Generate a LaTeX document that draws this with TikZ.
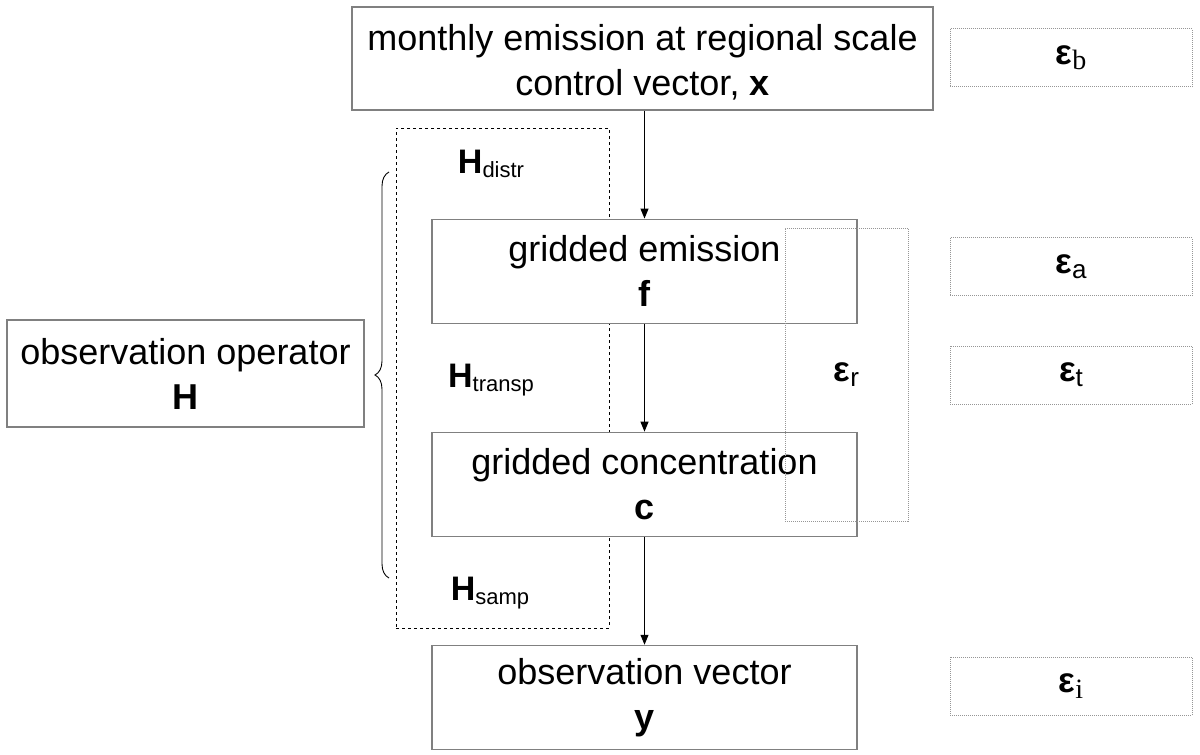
\documentclass[tikz,border=0pt]{standalone}
\usepackage{fontspec}
\setmainfont{Liberation Sans}
\newfontfamily\subserif{Liberation Serif}
\usetikzlibrary{positioning, arrows.meta, decorations.pathreplacing}

\definecolor{boxgray}{RGB}{128,128,128}
\definecolor{dotgray}{RGB}{150,150,150}

\newcommand{\Hop}[1]{\textbf{H}\raisebox{-0.12em}{\fontsize{22}{22}\selectfont #1}}
\newcommand{\epsS}[1]{\textbf{ε}\raisebox{-0.15em}{\fontsize{26}{26}\selectfont #1}}
\newcommand{\epsR}[1]{\textbf{ε}\raisebox{-0.15em}{\fontsize{28}{28}\selectfont\subserif #1}}

\begin{document}
\begin{tikzpicture}[x=1pt, y=-1pt, node distance=108pt,
    block/.style={rectangle, draw=boxgray, line width=1.1pt, fill=white, align=center, inner sep=0pt,
        minimum width=425pt, minimum height=104pt, font=\fontsize{36}{45}\selectfont},
    errbox/.style={rectangle, draw=dotgray, dash pattern=on 1pt off 1pt, line width=0.9pt,
        minimum width=242pt, minimum height=58pt, font=\fontsize{35}{35}\selectfont},
    oplabel/.style={font=\fontsize{34}{34}\selectfont},
    arrow/.style={-{Triangle[length=10pt, width=8pt]}, line width=1pt}]

\useasboundingbox (0,0) rectangle (1200,755);

% Operator group
\node [rectangle, draw, dashed, line width=1pt, minimum width=213pt, minimum height=500pt] (hgroup) at (502.5,378) {};

% Nodes
\node [block, minimum width=581pt, minimum height=103pt] (ctrl) at (642.5,58.5) {\rule{0pt}{34pt}monthly emission at regional scale\\control vector, \textbf{x}};
\node [block, below=of ctrl, xshift=2pt] (emis) {gridded emission\\\textbf{f}};
\node [block, below=of emis] (conc) {gridded concentration\\\textbf{c}};
\node [block, below=of conc] (obs) {observation vector\\\textbf{y}};
\node [block, minimum width=357pt, minimum height=107pt] (oper) at (185.5,373.5) {observation operator\\\textbf{H}};

\node [oplabel] (hdistr) at (491,164) {\Hop{distr}};
\node [oplabel] (htransp) at (491,380) {\Hop{transp}};
\node [oplabel] (hsamp) at (490,593) {\Hop{samp}};

% Errors
\node [errbox, minimum width=123pt, minimum height=293pt] (errr) at (846.5,374.5) {\epsS{r}};
\node [errbox] (errb) at (1071,57.5) {\epsR{b}};
\node [errbox] (erra) at (1071,266.5) {\epsS{a}};
\node [errbox] (errt) at (1071,375) {\epsS{t}};
\node [errbox] (erri) at (1071,686) {\epsR{i}};

% Brace
\coordinate (bbot) at (389,578);
\coordinate (btop) at (389,172);
\draw [line width=0.9pt, decorate, decoration={brace, amplitude=14pt}] (bbot) -- (btop);

% Arrows
\draw [arrow] (emis.north |- ctrl.south) -- (emis);
\draw [arrow] (emis) -- (conc);
\draw [arrow] (conc) -- (obs);

\end{tikzpicture}
\end{document}
